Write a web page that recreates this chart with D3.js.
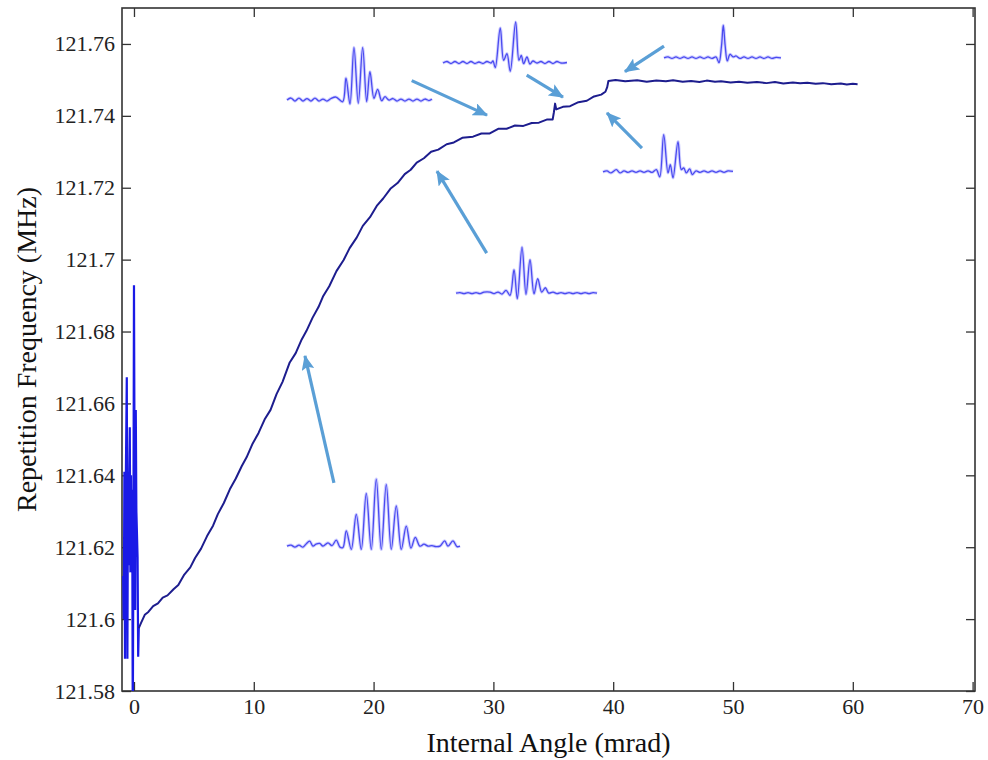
<!DOCTYPE html>
<html>
<head>
<meta charset="utf-8">
<script src="https://cdnjs.cloudflare.com/ajax/libs/d3/7.8.5/d3.min.js"></script>
<style>
  body { margin: 0; background: #fff; }
  text { font-family: "Liberation Serif", "DejaVu Serif", serif; }
</style>
</head>
<body>
<script>
// measured curve: internal angle (mrad) vs repetition frequency (MHz)
var angle = [0.40, 0.60, 0.90, 1.20, 1.60, 2.00, 2.40, 2.80, 3.30, 3.70, 4.20, 4.70, 5.10, 5.60, 6.10,
  6.60, 7.00, 7.50, 8.00, 8.50, 9.00, 9.40, 9.90, 10.40, 10.90, 11.40, 11.90, 12.40, 13.00, 13.50,
  14.00, 14.40, 14.90, 15.40, 15.80, 16.30, 16.90, 17.50, 18.00, 18.60, 19.10, 19.70, 20.30, 20.80,
  21.40, 22.00, 22.60, 23.10, 23.60, 24.20, 24.80, 25.40, 26.10, 26.70, 27.40, 28.30, 29.00, 29.70,
  30.40, 31.10, 31.80, 32.50, 33.20, 33.80, 34.50, 34.95, 35.05, 35.15, 35.25, 35.80, 36.40, 37.10,
  37.80, 38.40, 39.00, 39.35, 39.50, 39.60, 40.20, 41.00, 42.00, 42.80, 43.60, 44.40, 45.00, 45.80,
  46.50, 47.20, 47.80, 48.50, 49.00, 49.80, 50.50, 51.20, 52.00, 52.80, 53.50, 54.20, 55.00, 55.60,
  56.20, 56.90, 57.50, 58.20, 59.00, 59.50, 60.00, 60.40, 60.88];
var freq = [121.5975, 121.5990, 121.6012, 121.6020, 121.6036, 121.6044, 121.6060, 121.6066, 121.6083, 121.6095,
  121.6124, 121.6144, 121.6170, 121.6196, 121.6231, 121.6260, 121.6292, 121.6323, 121.6361, 121.6391,
  121.6426, 121.6450, 121.6488, 121.6518, 121.6555, 121.6582, 121.6626, 121.6660, 121.6714, 121.6740,
  121.6778, 121.6802, 121.6838, 121.6868, 121.6899, 121.6926, 121.6968, 121.6999, 121.7032, 121.7062,
  121.7094, 121.7118, 121.7151, 121.7170, 121.7197, 121.7213, 121.7238, 121.7250, 121.7270, 121.7282,
  121.7300, 121.7306, 121.7321, 121.7326, 121.7339, 121.7342, 121.7351, 121.7351, 121.7364, 121.7364,
  121.7373, 121.7372, 121.7380, 121.7381, 121.7390, 121.7390, 121.7410, 121.7434, 121.7418, 121.7425,
  121.7427, 121.7438, 121.7442, 121.7454, 121.7459, 121.7467, 121.7480, 121.7497, 121.7500, 121.7496,
  121.7499, 121.7495, 121.7498, 121.7496, 121.7499, 121.7495, 121.7497, 121.7494, 121.7498, 121.7495,
  121.7496, 121.7493, 121.7495, 121.7492, 121.7494, 121.7491, 121.7494, 121.7490, 121.7493, 121.7491,
  121.7492, 121.7489, 121.7491, 121.7488, 121.7490, 121.7487, 121.7489, 121.7488];

// unlocked noise near zero angle
var noiseAngle = [-0.90, -0.85, -0.80, -0.75, -0.70, -0.60, -0.55, -0.50, -0.45, -0.40, -0.35, -0.30,
  -0.25, -0.20, -0.15, -0.10, -0.05, 0.00, 0.05, 0.10, 0.15, 0.20, 0.30, 0.35, 0.40];
var noiseFreq = [121.612, 121.600, 121.641, 121.589, 121.632, 121.6673, 121.589, 121.638, 121.615, 121.640,
  121.6534, 121.613, 121.640, 121.617, 121.636, 121.570, 121.620, 121.6929, 121.640, 121.6025,
  121.6582, 121.630, 121.6173, 121.5895, 121.5975];

var xTicks = [0, 10, 20, 30, 40, 50, 60, 70];
var yTicks = [121.58, 121.60, 121.62, 121.64, 121.66, 121.68, 121.70, 121.72, 121.74, 121.76];
var yTickLabels = ["121.58", "121.6", "121.62", "121.64", "121.66", "121.68", "121.7", "121.72", "121.74", "121.76"];

// interferogram insets: [dx, dy] pixel offsets from the inset's left end of baseline
var fringeA = [[0,0],[4,2],[8,-1],[12,2],[16,-1],[20,1.5],[24,-1],[28,2],[32,-1],[36,1],[40,-1],[44,1.5],[49,3],
  [55.7,-1.7],[59,22],[63,-4],[67,52.7],[71.3,-3.3],[75.7,52.7],[79.7,-1.7],[83,28.3],[87,1.7],[90.7,10.7],
  [94.7,-0.7],[98,3.3],[102,0],[106,1.5],[110,-1],[114,1],[118,-1],[122,1],[126,-1],[130,1],[134,-1],[138,1],[142,-0.5],[145,1]];
var fringeB = [[0,0],[4,1.5],[8,-0.5],[12,1.5],[16,-0.5],[20,1.5],[24,-0.5],[28,1.5],[32,-0.5],[36,1],[40,-0.5],
  [44,1.5],[48,0],[50,2],[52.3,-4.7],[57.3,35],[60.7,2.7],[64,9.3],[67.3,-8.3],[72.7,41],[76,2.7],[78.3,7.7],
  [80.7,-0.7],[84,6],[87,-1],[90,2],[94,0],[98,1.5],[102,-0.5],[106,1.5],[110,-0.5],[114,1.5],[118,0],[124,0.5]];
var fringeC = [[0,0],[4,1],[8,-0.5],[12,1],[16,-0.5],[20,1],[24,-0.5],[28,1],[32,-0.5],[36,1],[40,-0.5],[44,1],
  [48,-0.5],[52,1],[55,-4.7],[57.5,12],[59.3,32.7],[61.2,12],[63.3,-3],[66,3.7],[69.3,1],[72,2],[76,-0.5],[80,1],
  [84,-0.5],[88,1],[92,-0.5],[96,1],[100,-0.5],[104,1],[108,-0.5],[112,0.5],[117,0]];
var fringeD = [[0,0],[4,1],[8,-1],[13.3,2.3],[17,-1],[21,1],[25,-0.5],[29,1],[33,-0.5],[37,1],[41,-0.5],[45,1],
  [49,-0.5],[53.3,2.3],[56.7,-5],[60.7,37.3],[65,-1],[67.3,7.3],[70,-6],[75,30.3],[78.3,2.3],[80.7,4],[83.3,-1],
  [86.7,3],[89.3,-2.7],[93,1],[97,-0.5],[101,1],[105,-0.5],[109,1],[113,-0.5],[117,1],[121,-0.5],[125,1],[130,0.5]];
var fringeE = [[0,0],[4,0.5],[8,-0.5],[12,0.5],[16,-0.5],[20,0.5],[24,-0.5],[28,1],[34,1],[38,-0.5],[42,1],
  [46,-1],[50,2.7],[54,-2.3],[58,23.3],[61.3,-5.7],[66,46],[70,-1.3],[74,33.3],[78,-0.7],[81.7,14.3],[85.7,1],
  [89.3,5.3],[92.7,0],[97,1],[101,-0.5],[105,0.5],[109,-0.5],[113,0.5],[117,-0.5],[121,0.5],[125,-0.5],
  [129,0.5],[133,-0.5],[137,0.5],[141,0]];
var fringeF = [[0,0],[4,1],[8,-1],[12,1],[16,-1],[19,2],[22.7,5],[26,0],[29,2],[32.7,2.7],[36,0],[41,3.3],
  [45,0.5],[49.3,6],[53,-1],[56,-1.3],[59.3,15.3],[64.3,-3.3],[69.3,31.7],[74.3,-3.3],[79.3,52.7],[84.3,-3.3],
  [89.3,67],[94.3,-3.3],[99.3,61.7],[104.3,-3.3],[109.3,40.3],[114.3,-3.3],[119.3,20],[124,-2],[128.3,8.7],
  [133,0],[137,2],[141,0],[145,0.5],[149,-0.5],[153,0],[157.7,5.3],[161,0],[166,5.3],[170,-0.5],[173,0]];

var W = 988, H = 760;
var margin = {left: 122, right: 13, top: 8, bottom: 69};

var svg = d3.select("body").append("svg").attr("width", W).attr("height", H);

var x = d3.scaleLinear().domain([-1.0, 70.2]).range([margin.left, W - margin.right]);
var y = d3.scaleLinear().domain([121.58, 121.77]).range([H - margin.bottom, margin.top]);

svg.append("defs").append("clipPath").attr("id", "plotClip")
  .append("rect")
  .attr("x", margin.left).attr("y", margin.top)
  .attr("width", W - margin.left - margin.right)
  .attr("height", H - margin.top - margin.bottom);

// axes, MATLAB style: ticks inside, box on
var tickLen = 9;
function styleAxis(g) {
  g.select(".domain").remove();
  g.selectAll(".tick line").attr("stroke", "#333").attr("stroke-width", 1.3);
  g.selectAll(".tick text").attr("fill", "#222").style("font-size", "22px")
    .style("font-family", "'Liberation Serif', serif");
}

svg.append("g").attr("transform", "translate(0," + y.range()[0] + ")")
  .call(d3.axisBottom(x).tickValues(xTicks).tickSizeInner(-tickLen).tickSizeOuter(0).tickPadding(7))
  .call(styleAxis);
svg.append("g").attr("transform", "translate(0," + y.range()[1] + ")")
  .call(d3.axisTop(x).tickValues(xTicks).tickSizeInner(-tickLen).tickSizeOuter(0).tickFormat(""))
  .call(styleAxis);
svg.append("g").attr("transform", "translate(" + x.range()[0] + ",0)")
  .call(d3.axisLeft(y).tickValues(yTicks).tickSizeInner(-tickLen).tickSizeOuter(0).tickPadding(7)
    .tickFormat(function(d, i) { return yTickLabels[i]; }))
  .call(styleAxis);
svg.append("g").attr("transform", "translate(" + x.range()[1] + ",0)")
  .call(d3.axisRight(y).tickValues(yTicks).tickSizeInner(-tickLen).tickSizeOuter(0).tickFormat(""))
  .call(styleAxis);

svg.append("rect")
  .attr("x", margin.left).attr("y", margin.top)
  .attr("width", W - margin.left - margin.right)
  .attr("height", H - margin.top - margin.bottom)
  .attr("fill", "none").attr("stroke", "#333").attr("stroke-width", 1.6);

// axis titles
svg.append("text")
  .attr("x", (x.range()[0] + x.range()[1]) / 2).attr("y", 752)
  .attr("text-anchor", "middle").style("font-size", "28px").attr("fill", "#111")
  .text("Internal Angle (mrad)");
svg.append("text")
  .attr("transform", "translate(36," + ((y.range()[0] + y.range()[1]) / 2) + ") rotate(-90)")
  .attr("text-anchor", "middle").style("font-size", "28px").attr("fill", "#111")
  .text("Repetition Frequency (MHz)");

// data
var plot = svg.append("g").attr("clip-path", "url(#plotClip)");
var line = d3.line().x(function(d) { return x(d[0]); }).y(function(d) { return y(d[1]); });

plot.append("path")
  .datum(d3.zip(noiseAngle, noiseFreq))
  .attr("d", line)
  .attr("fill", "none").attr("stroke", "#1a1ae6").attr("stroke-width", 2.2);

plot.append("path")
  .datum(d3.zip(angle, freq))
  .attr("d", line)
  .attr("fill", "none").attr("stroke", "#1d1d8e").attr("stroke-width", 2)
  .attr("stroke-linejoin", "round");

// insets, anchored in data coordinates (left end of baseline)
var insets = [
  {shape: fringeA, at: [12.77, 121.7444]},
  {shape: fringeB, at: [25.79, 121.7547]},
  {shape: fringeC, at: [44.24, 121.7561]},
  {shape: fringeD, at: [39.15, 121.7244]},
  {shape: fringeE, at: [26.88, 121.6907]},
  {shape: fringeF, at: [12.77, 121.6203]}
];
var fringeLine = d3.line()
  .x(function(d) { return d[0]; })
  .y(function(d) { return -d[1]; })
  .curve(d3.curveCatmullRom.alpha(0.5));

insets.forEach(function(ins) {
  var g = svg.append("g")
    .attr("transform", "translate(" + x(ins.at[0]) + "," + y(ins.at[1]) + ")");
  g.append("path").attr("d", fringeLine(ins.shape))
    .attr("fill", "none").attr("stroke", "#a9a9ff").attr("stroke-width", 3.2).attr("opacity", 0.55);
  g.append("path").attr("d", fringeLine(ins.shape))
    .attr("fill", "none").attr("stroke", "#4a4af0").attr("stroke-width", 1.3);
});

// arrows: [from, to] in data coordinates
var arrows = [
  [[23.18, 121.7498], [29.47, 121.7402]],
  [[32.78, 121.7513], [35.81, 121.7452]],
  [[44.24, 121.7594], [40.98, 121.7523]],
  [[42.40, 121.7310], [39.48, 121.7408]],
  [[29.44, 121.7018], [25.29, 121.7246]],
  [[16.69, 121.6379], [14.27, 121.6732]]
];

svg.select("defs").append("marker")
  .attr("id", "head").attr("viewBox", "0 0 15 13")
  .attr("refX", 14).attr("refY", 6.5)
  .attr("markerWidth", 15).attr("markerHeight", 13)
  .attr("markerUnits", "userSpaceOnUse").attr("orient", "auto")
  .append("path").attr("d", "M0,0 L15,6.5 L0,13 L3,6.5 Z").attr("fill", "#5a9fd6");

svg.selectAll(".arrow").data(arrows).enter().append("line")
  .attr("class", "arrow")
  .attr("x1", function(d) { return x(d[0][0]); })
  .attr("y1", function(d) { return y(d[0][1]); })
  .attr("x2", function(d) { return x(d[1][0]); })
  .attr("y2", function(d) { return y(d[1][1]); })
  .attr("stroke", "#5a9fd6").attr("stroke-width", 3.2)
  .attr("marker-end", "url(#head)");
</script>
</body>
</html>
